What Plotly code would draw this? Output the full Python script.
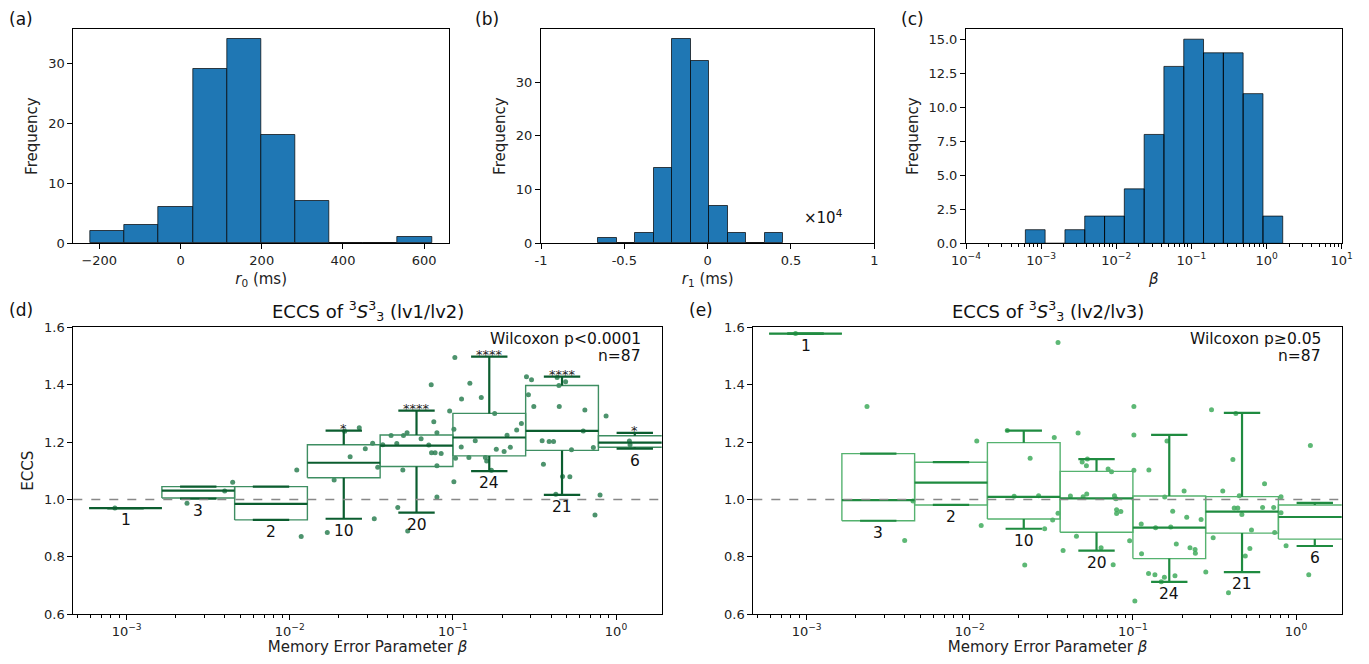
import numpy as np
import plotly.graph_objects as go

# ---- (a) r0 histogram
r0_edges = [-222.0, -137.9, -53.8, 30.3, 114.4, 198.5, 282.6, 366.7, 450.8, 534.9, 619.0]
r0_counts = [2, 3, 6, 29, 34, 18, 7, 0, 0, 1]

# ---- (b) r1 histogram (values x1e4)
r1_edges = [-0.656, -0.545, -0.434, -0.323, -0.212, -0.101, 0.010, 0.121, 0.232, 0.343, 0.454]
r1_counts = [1, 0, 2, 14, 38, 34, 7, 2, 0, 2]

# ---- (c) beta histogram, bin edges given as log10(beta)
beta_log_edges = [-3.210, -2.947, -2.683, -2.420, -2.156, -1.893, -1.629,
                  -1.366, -1.102, -0.839, -0.575, -0.312, -0.048, 0.215]
beta_counts = [1, 0, 1, 2, 2, 4, 8, 13, 15, 14, 14, 11, 2]

# ---- (d)/(e) beta bins used for the box plots (log10 edges)
box_log_edges = [-3.230, -2.784, -2.338, -1.892, -1.446, -1.000, -0.554, -0.108, 0.338]
box_n = [1, 3, 2, 10, 20, 24, 21, 6]

# (d) lv1/lv2
d_lo = [0.970, 1.003, 0.929, 0.933, 0.954, 1.099, 1.016, 1.177]
d_q1 = [0.970, 1.005, 0.929, 1.076, 1.115, 1.152, 1.171, 1.182]
d_med = [0.970, 1.031, 0.985, 1.128, 1.188, 1.216, 1.239, 1.198]
d_q3 = [0.970, 1.045, 1.045, 1.191, 1.225, 1.300, 1.397, 1.222]
d_hi = [0.970, 1.045, 1.045, 1.240, 1.310, 1.498, 1.428, 1.232]
d_stars = ["", "", "", "*", "****", "****", "****", "*"]

d_log_beta = [-3.072, -2.630, -2.399, -2.350, -1.957, -1.930, -1.770, -1.728, -1.663, -1.630,
              -1.574, -1.537, -1.492, -1.482, -1.461, -1.430, -1.379, -1.344, -1.338, -1.307,
              -1.303, -1.281, -1.277, -1.195, -1.148, -1.133, -1.131, -1.117, -1.109, -1.098,
              -1.098, -1.098, -1.072, -1.020, -0.994, -0.994, -0.988, -0.984, -0.949, -0.947,
              -0.902, -0.896, -0.863, -0.826, -0.801, -0.793, -0.764, -0.744, -0.734, -0.686,
              -0.668, -0.648, -0.609, -0.580, -0.549, -0.537, -0.518, -0.504, -0.453, -0.445,
              -0.410, -0.383, -0.369, -0.361, -0.350, -0.348, -0.328, -0.309, -0.283, -0.273,
              -0.201, -0.191, -0.139, -0.129, -0.098, -0.061, 0.082, 0.086]
d_eccs = [0.970, 0.987, 1.030, 1.060, 1.103, 0.871, 0.885, 1.068, 1.238, 1.149,
          1.250, 1.177, 1.196, 0.933, 1.112, 1.191, 1.223, 1.195, 0.972, 1.103,
          1.223, 1.233, 0.890, 1.212, 1.190, 1.400, 1.163, 1.271, 1.163, 1.233,
          1.118, 1.009, 1.160, 1.308, 1.245, 1.062, 1.495, 1.144, 1.183, 1.350,
          1.146, 1.405, 1.205, 1.355, 1.146, 1.134, 1.102, 1.300, 1.175, 1.167,
          1.224, 1.182, 1.242, 1.265, 1.428, 1.365, 1.417, 1.324, 1.205, 1.123,
          1.202, 1.202, 1.018, 1.425, 1.397, 1.324, 1.080, 1.410, 1.079, 1.173,
          1.239, 1.312, 1.181, 0.946, 1.016, 1.291, 1.204, 1.191]

# (e) lv2/lv3
e_lo = [1.578, 0.926, 0.981, 0.898, 0.822, 0.713, 0.747, 0.838]
e_q1 = [1.578, 0.926, 0.981, 0.932, 0.886, 0.794, 0.883, 0.862]
e_med = [1.578, 0.998, 1.059, 1.009, 1.004, 0.902, 0.958, 0.939]
e_q3 = [1.578, 1.160, 1.130, 1.198, 1.098, 1.012, 1.010, 0.981]
e_hi = [1.578, 1.160, 1.130, 1.240, 1.141, 1.225, 1.302, 0.988]
e_stars = ["", "", "", "", "", "", "", ""]

e_log_beta = [-3.068, -2.630, -2.399, -2.348, -1.957, -1.930, -1.770, -1.728, -1.663, -1.630,
              -1.578, -1.541, -1.492, -1.482, -1.459, -1.459, -1.428, -1.383, -1.346, -1.336,
              -1.311, -1.305, -1.285, -1.283, -1.279, -1.195, -1.152, -1.131, -1.121, -1.113,
              -1.104, -1.100, -1.100, -1.074, -1.020, -0.994, -0.994, -0.994, -0.988, -0.949,
              -0.947, -0.904, -0.902, -0.865, -0.861, -0.826, -0.807, -0.805, -0.791, -0.768,
              -0.756, -0.742, -0.734, -0.686, -0.670, -0.650, -0.619, -0.617, -0.582, -0.553,
              -0.518, -0.508, -0.449, -0.414, -0.387, -0.379, -0.369, -0.357, -0.348, -0.332,
              -0.311, -0.283, -0.273, -0.205, -0.193, -0.137, -0.131, -0.092, -0.092, -0.061,
              0.078, 0.088]
e_eccs = [1.578, 1.324, 0.857, 0.995, 1.204, 0.909, 1.240, 1.011, 0.772, 1.144,
          1.013, 0.898, 0.929, 1.216, 0.952, 1.547, 0.822, 1.012, 0.872, 1.232,
          1.131, 1.010, 1.118, 1.019, 1.141, 0.832, 1.106, 1.097, 0.773, 1.013,
          1.003, 0.964, 0.951, 0.958, 0.856, 1.324, 1.225, 1.102, 0.646, 0.915,
          0.811, 0.742, 1.103, 0.738, 0.902, 0.713, 0.729, 1.009, 1.204, 0.904,
          0.959, 0.734, 0.845, 1.030, 0.938, 0.832, 0.826, 0.813, 0.930, 0.747,
          1.313, 0.867, 1.030, 0.675, 1.139, 0.970, 1.300, 0.970, 1.013, 0.948,
          0.803, 0.829, 0.894, 0.972, 1.055, 0.972, 0.885, 1.010, 0.954, 0.839,
          0.738, 1.188]

FONT = "DejaVu Sans"
BAR_BLUE = "#1f77b4"
BAR_EDGE = "rgba(0,0,0,0.7)"

fig = go.Figure()


def add_hist(edges, counts, xa, ya):
    edges = np.array(edges)
    centers = (edges[:-1] + edges[1:]) / 2
    widths = edges[1:] - edges[:-1]
    fig.add_trace(go.Bar(x=centers, y=counts, width=widths, xaxis=xa, yaxis=ya,
                         marker=dict(color=BAR_BLUE, line=dict(color=BAR_EDGE, width=1)),
                         showlegend=False))


def add_log_hist(log_edges, counts, xa, ya):
    xs, ys = [], []
    for i, c in enumerate(counts):
        a, b = 10 ** log_edges[i], 10 ** log_edges[i + 1]
        xs += [a, a, b, b, a, None]
        ys += [0, c, c, 0, 0, None]
    fig.add_trace(go.Scatter(x=xs, y=ys, xaxis=xa, yaxis=ya, mode="lines", fill="toself",
                             fillcolor=BAR_BLUE, line=dict(color=BAR_EDGE, width=1),
                             showlegend=False, hoverinfo="skip"))


def add_boxes(log_beta, eccs, lo, q1, med, q3, hi, stars, dark, light, dot, xa, ya):
    fig.add_trace(go.Scatter(x=10 ** np.array(log_beta), y=eccs, mode="markers", xaxis=xa, yaxis=ya,
                             marker=dict(color=dot, size=5), showlegend=False))
    bx, by, mx, my, wx, wy = [], [], [], [], [], []
    for i in range(len(box_n)):
        a, b = box_log_edges[i], box_log_edges[i + 1]
        c = (a + b) / 2
        w = b - a
        xa_, xb_ = 10 ** a, 10 ** b
        bx += [xa_, xb_, xb_, xa_, xa_, None]
        by += [q1[i], q1[i], q3[i], q3[i], q1[i], None]
        mx += [xa_, xb_, None]
        my += [med[i], med[i], None]
        xc, cl, cr = 10 ** c, 10 ** (c - w / 4), 10 ** (c + w / 4)
        wx += [xc, xc, None, xc, xc, None, cl, cr, None, cl, cr, None]
        wy += [q3[i], hi[i], None, q1[i], lo[i], None, hi[i], hi[i], None, lo[i], lo[i], None]
        fig.add_annotation(x=c, y=lo[i], xref=xa, yref=ya, text=str(box_n[i]), showarrow=False,
                           yanchor="top", yshift=-1, font=dict(size=15.5, color="#111"))
        if stars[i]:
            fig.add_annotation(x=c, y=hi[i], xref=xa, yref=ya, text=stars[i], showarrow=False,
                               yanchor="bottom", yshift=-7, font=dict(size=13, color="#222"))
    fig.add_trace(go.Scatter(x=bx, y=by, mode="lines", xaxis=xa, yaxis=ya,
                             line=dict(color=light, width=1.4), showlegend=False, hoverinfo="skip"))
    fig.add_trace(go.Scatter(x=wx, y=wy, mode="lines", xaxis=xa, yaxis=ya,
                             line=dict(color=dark, width=2.2), showlegend=False, hoverinfo="skip"))
    fig.add_trace(go.Scatter(x=mx, y=my, mode="lines", xaxis=xa, yaxis=ya,
                             line=dict(color=dark, width=2.2), showlegend=False, hoverinfo="skip"))


add_hist(r0_edges, r0_counts, "x", "y")
add_hist(r1_edges, r1_counts, "x2", "y2")
add_log_hist(beta_log_edges, beta_counts, "x3", "y3")
add_boxes(d_log_beta, d_eccs, d_lo, d_q1, d_med, d_q3, d_hi, d_stars,
          "#0b5d2f", "#3e8e62", "rgba(46,128,84,0.85)", "x4", "y4")
add_boxes(e_log_beta, e_eccs, e_lo, e_q1, e_med, e_q3, e_hi, e_stars,
          "#1f8b40", "#55b26f", "rgba(65,171,93,0.85)", "x5", "y5")

# the page body keeps an 8px margin, so the figure is drawn 16px smaller and
# positions below are given in window pixels, then shifted by that margin
PAD = 8
W, H = 1369 - 2 * PAD, 664 - 2 * PAD


def px(x):
    return (x - PAD) / W


def py(y):
    return 1 - (y - PAD) / H


def dom_x(l, r):
    return [px(l), px(r)]


def dom_y(t, b):
    return [py(b), py(t)]


axis_style = dict(showline=True, linecolor="black", linewidth=1, mirror=True, ticks="outside",
                  ticklen=5, tickwidth=1, tickcolor="black", showgrid=False, zeroline=False,
                  automargin=False, tickfont=dict(size=13, color="#222"))
title_font = dict(size=15, color="#222")

sup = lambda k: "10<sup>" + ("\u2212" if k < 0 else "") + str(abs(k)) + "</sup>"
minor_vals = [m * 10.0 ** k for k in range(-4, 1) for m in range(2, 10)]
log_minor = dict(tickmode="array", tickvals=minor_vals, ticks="outside", ticklen=3,
                 tickwidth=1, tickcolor="black", showgrid=False)

fig.update_layout(
    width=W, height=H, margin=dict(l=0, r=0, t=0, b=0, autoexpand=False),
    paper_bgcolor="white", plot_bgcolor="white", bargap=0,
    font=dict(family=FONT, color="#222"),
    xaxis=dict(axis_style, domain=dom_x(73.3, 449), anchor="y", range=[-264, 661],
               tickvals=[-200, 0, 200, 400, 600], ticktext=["\u2212200", "0", "200", "400", "600"],
               title=dict(text="<i>r</i><sub>0</sub> (ms)", font=title_font, standoff=6)),
    yaxis=dict(axis_style, domain=dom_y(29, 243.3), anchor="x", range=[0, 35.7],
               tickvals=[0, 10, 20, 30],
               title=dict(text="Frequency", font=title_font, standoff=6)),
    xaxis2=dict(axis_style, domain=dom_x(541, 874.3), anchor="y2", range=[-1, 1],
                tickvals=[-1, -0.5, 0, 0.5, 1], ticktext=["-1", "-0.5", "0", "0.5", "1"],
                title=dict(text="<i>r</i><sub>1</sub> (ms)", font=title_font, standoff=6)),
    yaxis2=dict(axis_style, domain=dom_y(29, 243.3), anchor="x2", range=[0, 39.9],
                tickvals=[0, 10, 20, 30],
                title=dict(text="Frequency", font=title_font, standoff=6)),
    xaxis3=dict(axis_style, domain=dom_x(966, 1341.7), anchor="y3", type="log", range=[-4, 1],
                tickvals=[10.0 ** k for k in range(-4, 2)], ticktext=[sup(k) for k in range(-4, 2)],
                minor=log_minor,
                title=dict(text="<i>\u03b2</i>", font=title_font, standoff=6)),
    yaxis3=dict(axis_style, domain=dom_y(29, 243.3), anchor="x3", range=[0, 15.75],
                tickvals=[0, 2.5, 5, 7.5, 10, 12.5, 15], tickformat=".1f",
                title=dict(text="Frequency", font=title_font, standoff=6)),
    xaxis4=dict(axis_style, domain=dom_x(73.3, 661.7), anchor="y4", type="log", range=[-3.327, 0.28],
                tickvals=[10.0 ** k for k in range(-3, 1)], ticktext=[sup(k) for k in range(-3, 1)],
                minor=log_minor,
                title=dict(text="Memory Error Parameter <i>\u03b2</i>", font=title_font, standoff=6)),
    yaxis4=dict(axis_style, domain=dom_y(327.3, 614.3), anchor="x4", range=[0.6, 1.6],
                dtick=0.2, tickformat=".1f",
                title=dict(text="ECCS", font=title_font, standoff=6)),
    xaxis5=dict(axis_style, domain=dom_x(753.3, 1341.7), anchor="y5", type="log", range=[-3.327, 0.28],
                tickvals=[10.0 ** k for k in range(-3, 1)], ticktext=[sup(k) for k in range(-3, 1)],
                minor=log_minor,
                title=dict(text="Memory Error Parameter <i>\u03b2</i>", font=title_font, standoff=6)),
    yaxis5=dict(axis_style, domain=dom_y(327.3, 614.3), anchor="x5", range=[0.6, 1.6],
                dtick=0.2, tickformat=".1f"),
)

# reference line at ECCS = 1
ref_level = 1.0
for xa, ya in [("x4", "y4"), ("x5", "y5")]:
    fig.add_shape(type="line", xref=xa + " domain", yref=ya, x0=0, x1=1, y0=ref_level, y1=ref_level,
                  line=dict(color="#888888", width=1.5, dash="dash"))

# titles and stats text
titles = [("x4", "(lv1/lv2)", "Wilcoxon p&lt;0.0001", 0.968), ("x5", "(lv2/lv3)", "Wilcoxon p\u22650.05", 0.969)]
for xa, lv, wtxt, xr in titles:
    fig.add_annotation(xref=xa + " domain", yref="paper", x=0.5, y=py(311),
                       text="ECCS of <sup>3</sup><i>S</i><sup>3</sup><sub>3</sub> " + lv,
                       showarrow=False, yanchor="middle", font=dict(size=18, color="#111"))
    ya = "y4" if xa == "x4" else "y5"
    fig.add_annotation(xref=xa + " domain", yref=ya + " domain", x=xr, y=(614.3 - 339) / 287,
                       text=wtxt, showarrow=False, xanchor="right", yanchor="middle",
                       font=dict(size=15.5, color="#111"))
    fig.add_annotation(xref=xa + " domain", yref=ya + " domain", x=xr, y=(614.3 - 356) / 287,
                       text="n=87", showarrow=False, xanchor="right", yanchor="middle",
                       font=dict(size=15.5, color="#111"))

fig.add_annotation(xref="paper", yref="paper", x=px(823), y=py(205), text="\u00d710<sup>4</sup>",
                   showarrow=False, font=dict(size=15, color="#111"))

# panel letters; the top row is pinned to the top edge so it is not clipped
panel_labels = [("(a)", 8, 8, "top"), ("(b)", 474, 8, "top"), ("(c)", 900, 8, "top"),
                ("(d)", 8, 310, "middle"), ("(e)", 688, 310, "middle")]
for txt, lx, ly, anchor in panel_labels:
    fig.add_annotation(xref="paper", yref="paper", x=px(lx), y=py(ly), text=txt,
                       showarrow=False, xanchor="left", yanchor=anchor, borderpad=0,
                       font=dict(size=17, color="#111"))

fig.write_html("out.html")
